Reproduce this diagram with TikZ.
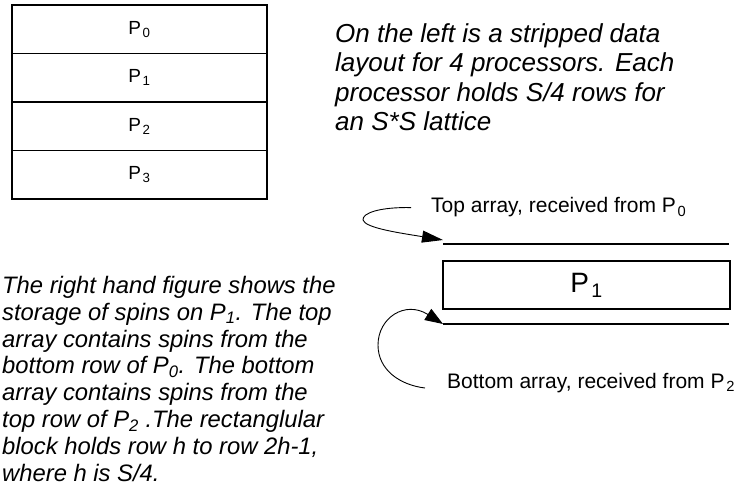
\documentclass[tikz,border=0pt]{standalone}
\usepackage{fontspec}
\setmainfont{Liberation Sans}
\usetikzlibrary{arrows.meta}

\newcommand{\procsub}[1]{P\kern0.08em\textsubscript{#1}}

\tikzset{
  cell/.style={draw, line width=1.1pt, minimum width=255pt, minimum height=48.5pt, inner sep=0pt, font=\fontsize{19pt}{22pt}\selectfont},
  note/.style={align=left, inner sep=0pt, anchor=north west},
  lbl/.style={inner ysep=0pt, font=\fontsize{21pt}{25pt}\selectfont},
  tip/.style={-{Triangle[length=21pt, width=12pt]}, line width=0.9pt},
}

\begin{document}
\begin{tikzpicture}[x=1pt, y=-1pt]
            \useasboundingbox (0, 0) rectangle (739, 489);
            %\draw[lightgray] (0, 0) grid[step=50] (739, 489);
            % striped layout, one row per processor
            \foreach \i in {0,...,3}
                \node[cell] (p\i) at (139.5, 29.25 + 48.5*\i) {\procsub{\i}};
            \node[note, font=\fontsize{26pt}{29.5pt}\selectfont\itshape] (ltxt) at (335, 23)
                {On the left is a stripped data\\layout for 4 processors. Each\\processor holds S/4 rows for\\an S*S lattice};
            % storage on P1
            \coordinate (top-l) at (443, 244);
            \coordinate (top-r) at (729, 244);
            \coordinate (bot-l) at (443, 324);
            \coordinate (bot-r) at (729, 324);
            \draw[line width=1.1pt] (top-l) -- (top-r);
            \draw[line width=1.1pt] (bot-l) -- (bot-r);
            \node[draw, line width=1.1pt, minimum width=287pt, minimum height=48pt, inner sep=0pt, font=\fontsize{28pt}{32pt}\selectfont] (blk) at (586.5, 285) {\procsub{1}};
            \node[lbl, inner xsep=20pt, anchor=base west] (toplbl) at (411, 213) {Top array, received from \procsub{0}};
            \node[lbl, inner xsep=22pt, anchor=base west] (botlbl) at (425, 388) {Bottom array, received from \procsub{2}};
            \draw[tip] (toplbl.west) .. controls (380, 207) and (362, 213) .. (363, 220)
                .. controls (365, 228) and (400, 233) .. ([yshift=4pt]top-l);
            \draw[tip, -{Triangle[length=18pt, width=13pt]}] (botlbl.base west) .. controls (400, 385) and (378, 370) .. (378, 345)
                .. controls (378, 318) and (405, 300) .. (bot-l);
            \node[note, font=\fontsize{23.8pt}{26.8pt}\selectfont\itshape] (rtxt) at (2, 276)
                {The right hand figure shows the\\storage of spins on \textit{P\textsubscript{1}}. The top\\array contains spins from the\\bottom row of \textit{P\textsubscript{0}}. The bottom\\array contains spins from the\\top row of \textit{P\textsubscript{2}} .The rectanglular\\block holds row h to row 2h-1,\\where h is S/4.};
        \end{tikzpicture}
\end{document}
